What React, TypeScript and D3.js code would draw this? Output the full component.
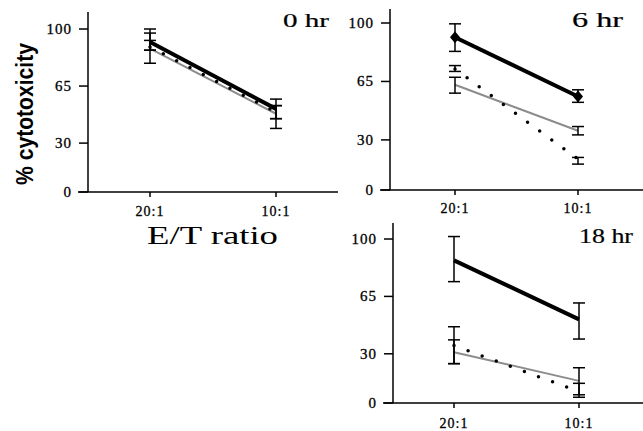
import React from "react";
import * as d3 from "d3";

const categories = ["20:1", "10:1"];
const yTicks = [0, 30, 65, 100];
const panelTitles = ["0 hr", "6 hr", "18 hr"];

// series values per panel: [20:1, 10:1]
const blackValues = [[92, 51], [91.5, 56], [87, 51]];
const blackHi = [[100, 57], [99.5, 60], [101.5, 61]];
const blackLo = [[87, 45], [83, 52.5], [74, 39]];

const grayValues = [[88, 48], [63, 35.5], [31, 13.5]];
const grayHi = [[97.5, 53], [67.5, 38], [46.5, 21.5]];
const grayLo = [[79, 39], [58, 33], [24, 5]];

const dotValues = [[89, 49], [72.5, 18.5], [35, 7]];
const dotHi = [[93, 53], [74.5, 19.5], [38.5, 12]];
const dotLo = [[87, 45], [71, 15.5], [24, 3.5]];

const layouts = [
  { ax: 88, top: 12, right: 338, x0: 150, x1: 276, y0: 192, y100: 29, titleX: 283, titleY: 27, titleSize: 19, titleW: 46, labY: 216 },
  { ax: 390, top: 9, right: 643, x0: 455, x1: 578, y0: 190, y100: 23, titleX: 572, titleY: 27, titleSize: 20, titleW: 51, labY: 213 },
  { ax: 393, top: 223, right: 643, x0: 454, x1: 579, y0: 403, y100: 239, titleX: 579, titleY: 243, titleSize: 22, titleW: 54, labY: 428 },
];

const serif = "'Liberation Serif', 'DejaVu Serif', serif";

function Panel({ i }: { i: number }) {
  const L = layouts[i];
  const x = d3.scalePoint<string>().domain(categories).range([L.x0, L.x1]);
  const y = d3.scaleLinear().domain([0, 100]).range([L.y0, L.y100]);
  const line = d3
    .line<number>()
    .x((_, k) => x(categories[k]) as number)
    .y((v) => y(v));

  const series = [
    { vals: grayValues[i], hi: grayHi[i], lo: grayLo[i], stroke: "#8c8c8c", w: 2, dash: undefined as string | undefined, cap: "butt" },
    { vals: dotValues[i], hi: dotHi[i], lo: dotLo[i], stroke: "#000", w: 3.5, dash: "0 15", cap: "round" },
    { vals: blackValues[i], hi: blackHi[i], lo: blackLo[i], stroke: "#000", w: 4, dash: undefined, cap: "butt" },
  ];

  return (
    <g>
      <line x1={L.ax} x2={L.ax} y1={L.top} y2={L.y0} stroke="#000" strokeWidth={1.5} />
      <line x1={L.ax - 10} x2={L.right} y1={L.y0} y2={L.y0} stroke="#000" strokeWidth={1.5} />
      {yTicks.map((t) => (
        <g key={t}>
          <line x1={L.ax - 9} x2={L.ax} y1={y(t)} y2={y(t)} stroke="#000" strokeWidth={1.5} />
          <text x={L.ax - 16} y={y(t) + 5} textAnchor="end" fontFamily={serif} fontSize={15} letterSpacing={1} stroke="#000" strokeWidth={0.3}>
            {t}
          </text>
        </g>
      ))}
      {categories.map((c) => (
        <g key={c}>
          <line x1={x(c)} x2={x(c)} y1={L.y0} y2={L.y0 + 5} stroke="#000" strokeWidth={1.5} />
          <text x={x(c)} y={L.labY} textAnchor="middle" fontFamily={serif} fontSize={14} letterSpacing={1} stroke="#000" strokeWidth={0.3}>
            {c}
          </text>
        </g>
      ))}
      <text x={L.titleX} y={L.titleY} fontFamily={serif} fontSize={L.titleSize} textLength={L.titleW} lengthAdjust="spacingAndGlyphs" stroke="#000" strokeWidth={0.2}>
        {panelTitles[i]}
      </text>
      {series.map((s, si) => (
        <g key={si}>
          <path d={line(s.vals) as string} fill="none" stroke={s.stroke} strokeWidth={s.w} strokeDasharray={s.dash} strokeLinecap={s.cap as any} />
          {categories.map((c, k) => {
            const cx = x(c) as number;
            return (
              <g key={c} stroke="#000" strokeWidth={1.5}>
                <line x1={cx} x2={cx} y1={y(s.hi[k])} y2={y(s.lo[k])} />
                <line x1={cx - 6} x2={cx + 6} y1={y(s.hi[k])} y2={y(s.hi[k])} />
                <line x1={cx - 6} x2={cx + 6} y1={y(s.lo[k])} y2={y(s.lo[k])} />
              </g>
            );
          })}
        </g>
      ))}
      {i === 1 &&
        categories.map((c, k) => {
          const cx = x(c) as number;
          const cy = y(blackValues[i][k]);
          return <path key={c} d={`M${cx},${cy - 6}L${cx + 5},${cy}L${cx},${cy + 6}L${cx - 5},${cy}Z`} fill="#000" />;
        })}
    </g>
  );
}

export default function App() {
  return (
    <svg width={643} height={431} style={{ position: "absolute", left: 0, top: 0, background: "#fff" }}>
      <rect width={643} height={431} fill="#fff" />
      {layouts.map((_, i) => (
        <Panel key={i} i={i} />
      ))}
      <text
        transform="translate(33,114) rotate(-90)"
        textAnchor="middle"
        fontFamily="'Liberation Sans', Arial, sans-serif"
        fontWeight="bold"
        fontSize={23}
        textLength={142}
        lengthAdjust="spacingAndGlyphs"
      >
        % cytotoxicity
      </text>
      <text x={147} y={244} fontFamily={serif} fontSize={26} textLength={131} lengthAdjust="spacingAndGlyphs">
        E/T ratio
      </text>
    </svg>
  );
}
